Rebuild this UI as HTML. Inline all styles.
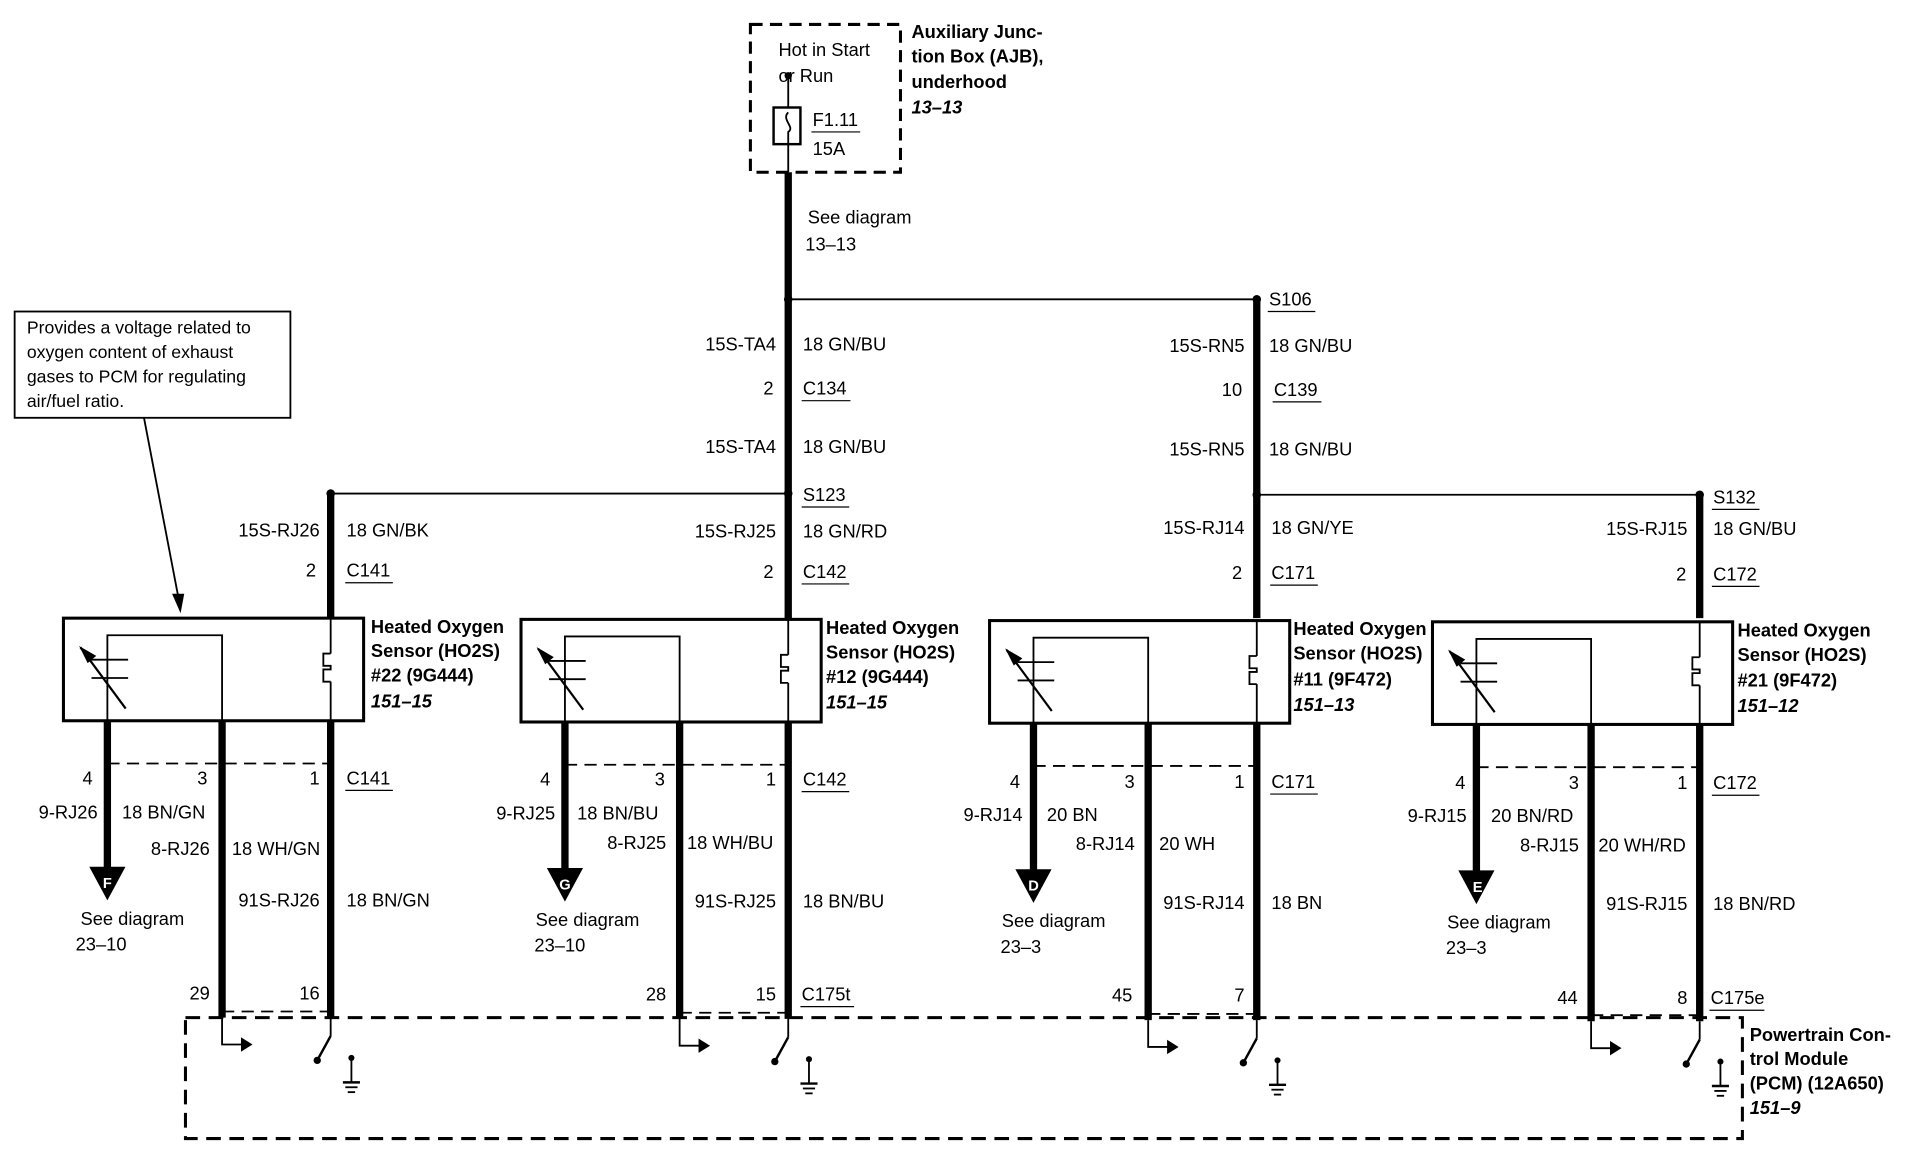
<!DOCTYPE html>
<html><head><meta charset="utf-8"><style>
html,body{margin:0;padding:0;background:#fff}
svg{display:block}
text{font-family:"Liberation Sans",sans-serif;font-size:15px;fill:#000}
.b{font-weight:bold}
.bi{font-weight:bold;font-style:italic}
.r{text-anchor:end}
</style></head><body>
<svg width="1912" height="1152" viewBox="0 0 1567 943" preserveAspectRatio="none" xmlns="http://www.w3.org/2000/svg">
<defs>
<g id="sens" fill="none" stroke="#000">
  <rect x="52" y="506" width="246" height="84" stroke-width="2.5"/>
  <polyline points="88,590 88,520 182,520 182,590" stroke-width="1.5"/>
  <line x1="75" y1="540" x2="105" y2="540" stroke-width="1.5"/>
  <line x1="75" y1="555" x2="105" y2="555" stroke-width="1.5"/>
  <line x1="66" y1="530" x2="103" y2="580" stroke-width="1.8"/>
  <polygon points="66,530 78,537 72,542" fill="#000"/>
  <line x1="271" y1="506" x2="271" y2="535" stroke-width="1.5"/>
  <polyline points="271,535 265,535 265,545 271,545 271,548 265,548 265,558 271,558" stroke-width="1.5"/>
  <line x1="271" y1="558" x2="271" y2="590" stroke-width="1.5"/>
  <line x1="88" y1="590" x2="88" y2="710" stroke-width="6"/>
  <polygon points="74,710 102,710 88,736" fill="#000"/>
  <line x1="182" y1="590" x2="182" y2="833" stroke-width="6"/>
  <line x1="271" y1="590" x2="271" y2="833" stroke-width="6"/>
  <line x1="88" y1="625" x2="271" y2="625" stroke-width="1.5" stroke-dasharray="10,6"/>
  <line x1="182" y1="828" x2="271" y2="828" stroke-width="1.5" stroke-dasharray="10,6"/>
  <polyline points="182,833 182,855 200,855" stroke-width="1.5"/>
  <polygon points="198,850 206,855 198,860" fill="#000"/>
  <line x1="271" y1="833" x2="271" y2="848" stroke-width="1.5"/>
  <line x1="271" y1="848" x2="260" y2="868" stroke-width="2"/>
  <circle cx="260" cy="868" r="2.5" fill="#000"/>
  <circle cx="288" cy="866" r="2" fill="#000"/>
  <line x1="288" y1="866" x2="288" y2="886" stroke-width="1.5"/>
  <line x1="281" y1="886" x2="295" y2="886" stroke-width="2"/>
  <line x1="283" y1="890" x2="293" y2="890" stroke-width="1.5"/>
  <line x1="285" y1="894" x2="291" y2="894" stroke-width="1.5"/>
</g>
</defs>
<!-- AJB -->
<rect x="615" y="20" width="123" height="121" fill="none" stroke="#000" stroke-width="2.5" stroke-dasharray="10,6"/>
<text x="638" y="46">Hot in Start</text><text x="638" y="67">or Run</text>
<circle cx="646" cy="62" r="3" fill="#000"/>
<line x1="646" y1="62" x2="646" y2="88" stroke="#000" stroke-width="1.5"/>
<rect x="634" y="88" width="22" height="30" fill="none" stroke="#000" stroke-width="2"/>
<path d="M646,92 C640,98 652,104 646,108 L646,118" fill="none" stroke="#000" stroke-width="1.5"/>
<line x1="646" y1="118" x2="646" y2="141" stroke="#000" stroke-width="1.5"/>
<text x="666" y="103">F1.11</text><line x1="665" y1="108" x2="705" y2="108" stroke="#000"/>
<text x="666" y="127">15A</text>
<text x="747" y="31" class="b">Auxiliary Junc-</text>
<text x="747" y="51" class="b">tion Box (AJB),</text>
<text x="747" y="72" class="b">underhood</text>
<text x="747" y="93" class="bi">13–13</text>
<line x1="646" y1="141" x2="646" y2="506" stroke="#000" stroke-width="6"/>
<text x="662" y="183">See diagram</text><text x="660" y="205">13–13</text>
<line x1="646" y1="245" x2="1030" y2="245" stroke="#000" stroke-width="1.5"/>
<circle cx="646" cy="245" r="3.5" fill="#000"/><circle cx="1030" cy="245" r="3.5" fill="#000"/>
<line x1="1030" y1="245" x2="1030" y2="506" stroke="#000" stroke-width="6"/>
<text x="1040" y="250">S106</text><line x1="1039" y1="255" x2="1078" y2="255" stroke="#000"/>
<text x="636" y="287" class="r">15S-TA4</text><text x="658" y="287">18 GN/BU</text>
<text x="634" y="323" class="r">2</text><text x="658" y="323">C134</text><line x1="657" y1="328" x2="697" y2="328" stroke="#000"/>
<text x="636" y="371" class="r">15S-TA4</text><text x="658" y="371">18 GN/BU</text>
<text x="1020" y="288" class="r">15S-RN5</text><text x="1040" y="288">18 GN/BU</text>
<text x="1018" y="324" class="r">10</text><text x="1044" y="324">C139</text><line x1="1043" y1="329" x2="1083" y2="329" stroke="#000"/>
<text x="1020" y="373" class="r">15S-RN5</text><text x="1040" y="373">18 GN/BU</text>
<!-- S lines -->
<line x1="271" y1="404" x2="646" y2="404" stroke="#000" stroke-width="1.5"/>
<line x1="1030" y1="405" x2="1393" y2="405" stroke="#000" stroke-width="1.5"/>
<circle cx="271" cy="404" r="3.5" fill="#000"/><circle cx="646" cy="404" r="3.5" fill="#000"/>
<circle cx="1030" cy="405" r="3.5" fill="#000"/><circle cx="1393" cy="405" r="3.5" fill="#000"/>
<line x1="271" y1="404" x2="271" y2="506" stroke="#000" stroke-width="6"/>
<line x1="1393" y1="405" x2="1393" y2="506" stroke="#000" stroke-width="6"/>
<text x="658" y="410">S123</text><line x1="657" y1="415" x2="696" y2="415" stroke="#000"/>
<text x="1404" y="412">S132</text><line x1="1403" y1="417" x2="1442" y2="417" stroke="#000"/>
<!-- callout -->
<rect x="12" y="255" width="226" height="87" fill="#fff" stroke="#000" stroke-width="1.5"/>
<text x="22" y="273" style="font-size:14.5px">Provides a voltage related to</text>
<text x="22" y="293" style="font-size:14.5px">oxygen content of exhaust</text>
<text x="22" y="313" style="font-size:14.5px">gases to PCM for regulating</text>
<text x="22" y="333" style="font-size:14.5px">air/fuel ratio.</text>
<line x1="118" y1="342" x2="146" y2="488" stroke="#000" stroke-width="1.5"/>
<polygon points="141,486 151,486 148,502" fill="#000"/>
<!-- PCM -->
<rect x="152" y="833" width="1276" height="99" fill="none" stroke="#000" stroke-width="2.5" stroke-dasharray="12,7"/>
<text x="1434" y="852" class="b">Powertrain Con-</text>
<text x="1434" y="872" class="b">trol Module</text>
<text x="1434" y="892" class="b">(PCM) (12A650)</text>
<text x="1434" y="912" class="bi">151–9</text>
<!-- sensors -->
<use href="#sens"/>
<use href="#sens" transform="translate(375,1)"/>
<use href="#sens" transform="translate(759,2)"/>
<use href="#sens" transform="translate(1122,3)"/>
<!-- S1 labels -->
<text x="262" y="439" class="r">15S-RJ26</text><text x="284" y="439">18 GN/BK</text>
<text x="259" y="472" class="r">2</text><text x="284" y="472">C141</text><line x1="283" y1="477" x2="322" y2="477" stroke="#000"/>
<text x="304" y="518" class="b">Heated Oxygen</text><text x="304" y="538" class="b">Sensor (HO2S)</text>
<text x="304" y="558" class="b">#22 (9G444)</text><text x="304" y="579" class="bi">151–15</text>
<text x="76" y="642" class="r">4</text><text x="170" y="642" class="r">3</text><text x="262" y="642" class="r">1</text>
<text x="284" y="642">C141</text><line x1="283" y1="647" x2="322" y2="647" stroke="#000"/>
<text x="80" y="670" class="r">9-RJ26</text><text x="100" y="670">18 BN/GN</text>
<text x="172" y="700" class="r">8-RJ26</text><text x="190" y="700">18 WH/GN</text>
<text x="262" y="742" class="r">91S-RJ26</text><text x="284" y="742">18 BN/GN</text>
<text x="88" y="727" style="font-size:12px;fill:#fff;font-weight:bold" text-anchor="middle">F</text>
<text x="66" y="757">See diagram</text><text x="62" y="778">23–10</text>
<text x="172" y="818" class="r">29</text><text x="262" y="818" class="r">16</text>
<!-- S2 labels -->
<text x="636" y="440" class="r">15S-RJ25</text><text x="658" y="440">18 GN/RD</text>
<text x="634" y="473" class="r">2</text><text x="658" y="473">C142</text><line x1="657" y1="478" x2="696" y2="478" stroke="#000"/>
<text x="677" y="519" class="b">Heated Oxygen</text><text x="677" y="539" class="b">Sensor (HO2S)</text>
<text x="677" y="559" class="b">#12 (9G444)</text><text x="677" y="580" class="bi">151–15</text>
<text x="451" y="643" class="r">4</text><text x="545" y="643" class="r">3</text><text x="636" y="643" class="r">1</text>
<text x="658" y="643">C142</text><line x1="657" y1="648" x2="696" y2="648" stroke="#000"/>
<text x="455" y="671" class="r">9-RJ25</text><text x="473" y="671">18 BN/BU</text>
<text x="546" y="695" class="r">8-RJ25</text><text x="563" y="695">18 WH/BU</text>
<text x="636" y="743" class="r">91S-RJ25</text><text x="658" y="743">18 BN/BU</text>
<text x="463" y="728" style="font-size:12px;fill:#fff;font-weight:bold" text-anchor="middle">G</text>
<text x="439" y="758">See diagram</text><text x="438" y="779">23–10</text>
<text x="546" y="819" class="r">28</text><text x="636" y="819" class="r">15</text>
<text x="657" y="819">C175t</text><line x1="656" y1="824" x2="700" y2="824" stroke="#000"/>
<!-- S3 labels -->
<text x="1020" y="437" class="r">15S-RJ14</text><text x="1042" y="437">18 GN/YE</text>
<text x="1018" y="474" class="r">2</text><text x="1042" y="474">C171</text><line x1="1041" y1="479" x2="1080" y2="479" stroke="#000"/>
<text x="1060" y="520" class="b">Heated Oxygen</text><text x="1060" y="540" class="b">Sensor (HO2S)</text>
<text x="1060" y="561" class="b">#11 (9F472)</text><text x="1060" y="582" class="bi">151–13</text>
<text x="836" y="645" class="r">4</text><text x="930" y="645" class="r">3</text><text x="1020" y="645" class="r">1</text>
<text x="1042" y="645">C171</text><line x1="1041" y1="650" x2="1080" y2="650" stroke="#000"/>
<text x="838" y="672" class="r">9-RJ14</text><text x="858" y="672">20 BN</text>
<text x="930" y="696" class="r">8-RJ14</text><text x="950" y="696">20 WH</text>
<text x="1020" y="744" class="r">91S-RJ14</text><text x="1042" y="744">18 BN</text>
<text x="847" y="729" style="font-size:12px;fill:#fff;font-weight:bold" text-anchor="middle">D</text>
<text x="821" y="759">See diagram</text><text x="820" y="780">23–3</text>
<text x="928" y="820" class="r">45</text><text x="1020" y="820" class="r">7</text>
<!-- S4 labels -->
<text x="1383" y="438" class="r">15S-RJ15</text><text x="1404" y="438">18 GN/BU</text>
<text x="1382" y="475" class="r">2</text><text x="1404" y="475">C172</text><line x1="1403" y1="480" x2="1442" y2="480" stroke="#000"/>
<text x="1424" y="521" class="b">Heated Oxygen</text><text x="1424" y="541" class="b">Sensor (HO2S)</text>
<text x="1424" y="562" class="b">#21 (9F472)</text><text x="1424" y="583" class="bi">151–12</text>
<text x="1201" y="646" class="r">4</text><text x="1294" y="646" class="r">3</text><text x="1383" y="646" class="r">1</text>
<text x="1404" y="646">C172</text><line x1="1403" y1="651" x2="1442" y2="651" stroke="#000"/>
<text x="1202" y="673" class="r">9-RJ15</text><text x="1222" y="673">20 BN/RD</text>
<text x="1294" y="697" class="r">8-RJ15</text><text x="1310" y="697">20 WH/RD</text>
<text x="1383" y="745" class="r">91S-RJ15</text><text x="1404" y="745">18 BN/RD</text>
<text x="1211" y="730" style="font-size:12px;fill:#fff;font-weight:bold" text-anchor="middle">E</text>
<text x="1186" y="760">See diagram</text><text x="1185" y="781">23–3</text>
<text x="1293" y="822" class="r">44</text><text x="1383" y="822" class="r">8</text>
<text x="1402" y="822">C175e</text><line x1="1401" y1="827" x2="1446" y2="827" stroke="#000"/>
</svg>
</body></html>
